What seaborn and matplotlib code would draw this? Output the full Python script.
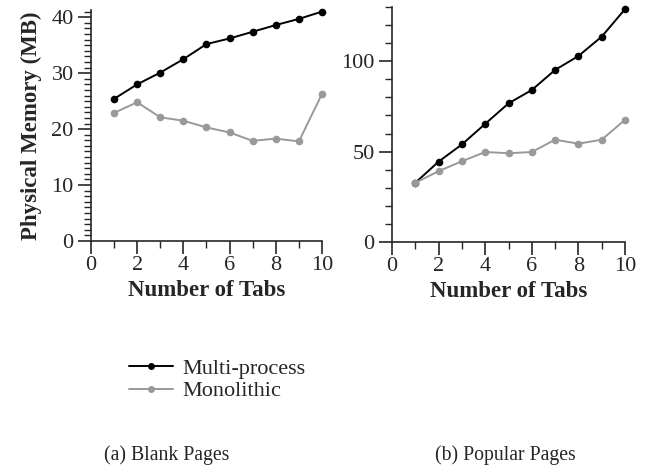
import numpy as np
import pandas as pd
import seaborn as sns
import matplotlib.pyplot as plt
from matplotlib.ticker import MultipleLocator
from matplotlib.lines import Line2D

sns.set_style("ticks")
plt.rcParams['font.family'] = ['Liberation Serif', 'DejaVu Serif']

tabs = [1, 2, 3, 4, 5, 6, 7, 8, 9, 10]
# (a) blank pages
blank_multi = [25.4, 28.0, 30.1, 32.5, 35.2, 36.2, 37.4, 38.6, 39.7, 41.0]
blank_mono = [22.9, 24.8, 22.1, 21.5, 20.3, 19.4, 17.9, 18.3, 17.8, 26.3]
# (b) popular pages
pop_multi = [32.8, 44.5, 54.0, 65.4, 76.7, 84.1, 95.2, 102.9, 113.6, 128.8]
pop_mono = [32.8, 39.2, 44.7, 49.8, 49.1, 49.8, 56.6, 54.4, 56.6, 67.6]

series = ["Multi-process", "Monolithic"]
colors = {"Multi-process": "black", "Monolithic": "#999999"}

def make_df(multi, mono):
    return pd.DataFrame({
        "tabs": tabs * 2,
        "mem": multi + mono,
        "kind": [series[0]] * len(tabs) + [series[1]] * len(tabs),
    })

fig = plt.figure(figsize=(6.47, 4.73), dpi=100)
ax1 = fig.add_axes([0.1406, 0.4905, 0.3571, 0.4885])
ax2 = fig.add_axes([0.606, 0.4883, 0.360, 0.4969])

for ax, df, ymax, major, minor in [
    (ax1, make_df(blank_multi, blank_mono), 41.3, 10, 1),
    (ax2, make_df(pop_multi, pop_mono), 130, 50, 10),
]:
    sns.lineplot(data=df, x="tabs", y="mem", hue="kind", palette=colors,
                 marker="o", markersize=5.5, markeredgewidth=0, linewidth=1.4,
                 ax=ax, legend=False, zorder=3)
    ax.set_xlim(0, 10)
    ax.set_ylim(0, ymax)
    ax.xaxis.set_major_locator(MultipleLocator(2))
    ax.xaxis.set_minor_locator(MultipleLocator(1))
    ax.yaxis.set_major_locator(MultipleLocator(major))
    ax.yaxis.set_minor_locator(MultipleLocator(minor))
    ax.tick_params(which="major", length=9.5, width=1.2, labelsize=16, direction="out", pad=1)
    ax.tick_params(axis="y", which="major", pad=3)
    ax.tick_params(which="minor", length=5, width=1.0, direction="out")
    ax.set_xlabel("Number of Tabs", fontsize=16.5, fontweight="bold", labelpad=4)
    ax.set_ylabel("")
    for s in ["top", "right"]:
        ax.spines[s].set_visible(False)
    for s in ["left", "bottom"]:
        ax.spines[s].set_linewidth(1.2)
    ax.patch.set_alpha(0)
    for l in ax.lines:
        l.set_clip_on(False)

ax1.set_ylabel("Physical Memory (MB)", fontsize=16.5, fontweight="bold", labelpad=7)

handles = [Line2D([], [], color=colors[s], marker="o", markersize=5, markeredgewidth=0,
                  linewidth=1.4) for s in series]
leg = fig.legend(handles, series, loc="center left", frameon=False, fontsize=16,
                 handlelength=1.95, handletextpad=0.45, labelspacing=0.1,
                 borderpad=0, borderaxespad=0)
leg.set_bbox_to_anchor((0.2, 0.197), transform=fig.transFigure)

fig.text(0.258, 0.038, "(a) Blank Pages", ha="center", va="center", fontsize=14.2)
fig.text(0.781, 0.038, "(b) Popular Pages", ha="center", va="center", fontsize=14.2)

fig.savefig("out.png", dpi=100)
